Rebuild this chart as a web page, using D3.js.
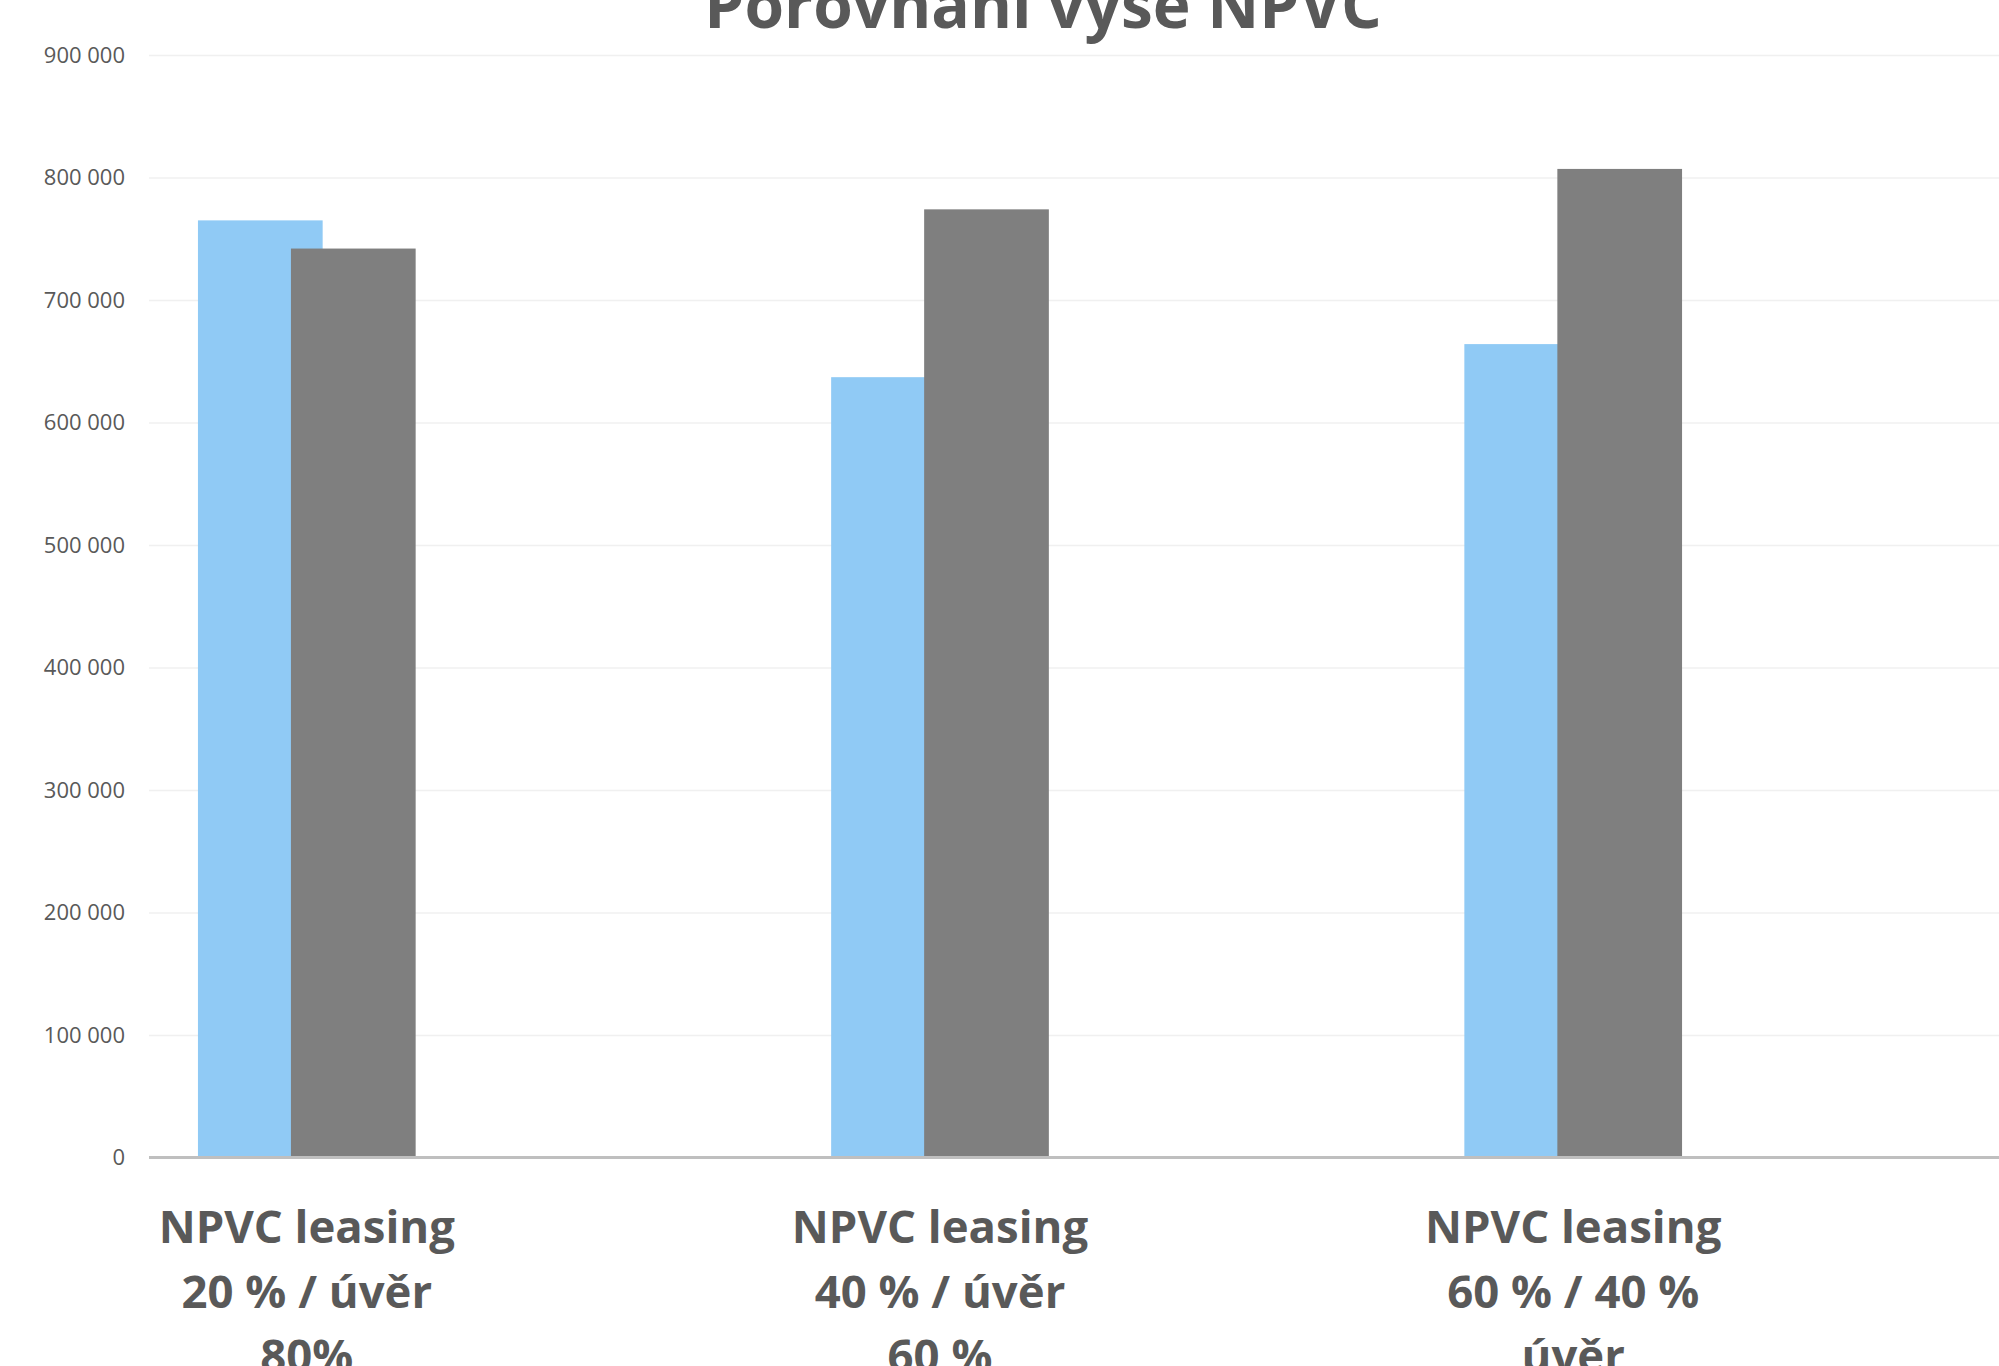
<!DOCTYPE html>
<html>
<head>
<meta charset="utf-8">
<script src="https://cdn.jsdelivr.net/npm/d3@7"></script>
<style>
  body { margin: 0; background: #fff; }
  svg { display: block; font-family: "Open Sans", sans-serif; }
</style>
</head>
<body>
<div id="chart"></div>
<script>
// data
const categories = ["c1", "c2", "c3"];
const categoryLabels = [
    ["NPVC leasing", "20 % / úvěr", "80%"],
    ["NPVC leasing", "40 % / úvěr", "60 %"],
    ["NPVC leasing", "60 % / 40 %", "úvěr"]
];
const seriesNames = ["s1", "s2"];
const seriesColors = ["#90caf5", "#7f7f7f"];
const valuesS1 = [765000, 637000, 664000];
const valuesS2 = [742000, 774000, 807000];
const yTicks = [0, 100000, 200000, 300000, 400000, 500000, 600000, 700000, 800000, 900000];

const W = 1999, H = 1366;
const plotLeft = 149, plotRight = 1999, plotTop = 55, plotBottom = 1157.5;

const svg = d3.select("#chart")
    .append("svg")
    .attr("width", W)
    .attr("height", H);

const y = d3.scaleLinear()
    .domain([0, 900000])
    .range([plotBottom, plotTop]);

// group centres
const x = d3.scalePoint()
    .domain(categories)
    .range([306.8, 1573.2]);

// offset of each series inside a group
const xs = d3.scaleBand()
    .domain(seriesNames)
    .range([-93, 93]);
const barWidth = 124.7;

const fmt = d3.formatLocale({ decimal: ",", thousands: " ", grouping: [3], currency: ["", ""] }).format(",d");

// y axis + gridlines
const yAxis = svg.append("g")
    .attr("transform", `translate(${plotLeft},0)`)
    .call(d3.axisLeft(y)
        .tickValues(yTicks)
        .tickFormat(fmt)
        .tickSize(-(plotRight - plotLeft))
        .tickPadding(24));

yAxis.select(".domain").remove();
yAxis.selectAll(".tick line")
    .attr("stroke", "#f0f0f0")
    .attr("stroke-width", 1.5);
yAxis.selectAll(".tick text")
    .attr("fill", "#595959")
    .attr("font-size", "22px")
    .attr("font-family", "Open Sans, sans-serif");

// bars
const rows = categories.map((c, i) => ({ cat: c, vals: [valuesS1[i], valuesS2[i]] }));

seriesNames.forEach((s, si) => {
    svg.selectAll(".bar-" + s)
        .data(rows)
        .join("rect")
        .attr("class", "bar-" + s)
        .attr("x", d => x(d.cat) + xs(s) + xs.bandwidth() / 2 - barWidth / 2)
        .attr("y", d => y(d.vals[si]))
        .attr("width", barWidth)
        .attr("height", d => y(0) - y(d.vals[si]))
        .attr("fill", seriesColors[si]);
});

// category axis line
svg.append("line")
    .attr("x1", plotLeft)
    .attr("x2", plotRight)
    .attr("y1", y(0))
    .attr("y2", y(0))
    .attr("stroke", "#bfbfbf")
    .attr("stroke-width", 3);

// category labels (last line runs off the bottom edge, as in the source)
const labelG = svg.selectAll(".cat-label")
    .data(categories)
    .join("text")
    .attr("class", "cat-label")
    .attr("x", d => x(d))
    .attr("y", 1243)
    .attr("text-anchor", "middle")
    .attr("fill", "#595959")
    .attr("font-size", "45.5px")
    .attr("font-weight", "bold");

labelG.selectAll("tspan")
    .data((d, i) => categoryLabels[i])
    .join("tspan")
    .attr("x", function () { return d3.select(this.parentNode).attr("x"); })
    .attr("dy", (d, i) => i === 0 ? 0 : 64.5)
    .text(d => d);

// title (cut off at the top edge, as in the source)
svg.append("text")
    .attr("x", 1043)
    .attr("y", 28)
    .attr("text-anchor", "middle")
    .attr("fill", "#595959")
    .attr("font-size", "64px")
    .attr("font-weight", "bold")
    .text("Porovnání výše NPVC");
</script>
</body>
</html>
